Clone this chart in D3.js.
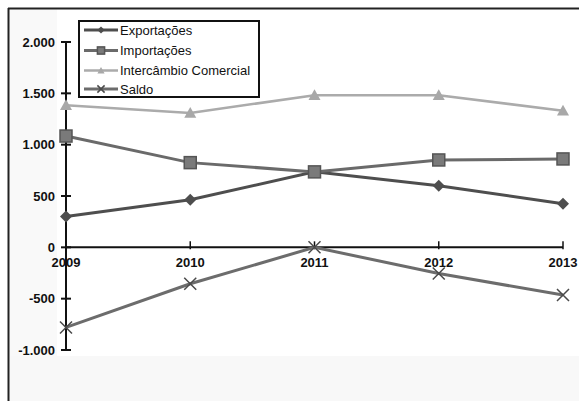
<!DOCTYPE html>
<html><head><meta charset="utf-8">
<script src="https://cdn.jsdelivr.net/npm/d3@7"></script>
<style>html,body{margin:0;padding:0;background:#fff;}svg{display:block;}</style>
</head><body>
<svg id="c" width="579" height="401"></svg>
<script>
const years = ["2009","2010","2011","2012","2013"];
const exportacoes = [301, 463, 735, 600, 425];
const importacoes = [1084, 825, 735, 851, 861];
const intercambio = [1385, 1308, 1482, 1482, 1330];
const saldo = [-780, -355, 0, -255, -465];
const yTicks = [-1000, -500, 0, 500, 1000, 1500, 2000];
const yTickLabels = ["-1.000", "-500", "0", "500", "1.000", "1.500", "2.000"];
const seriesNames = ["Exportações", "Importações", "Intercâmbio Comercial", "Saldo"];

const svg = d3.select("#c");
const font = "Liberation Sans, Arial, sans-serif";

// frame
svg.append("rect").attr("x",0).attr("y",0).attr("width",579).attr("height",401).attr("fill","#fff");
svg.append("rect").attr("x",9).attr("y",356).attr("width",570).attr("height",45).attr("fill","#f8f8f8");
svg.append("rect").attr("x",9).attr("y",9).attr("width",48).attr("height",347).attr("fill","#f9f9f9");
svg.append("line").attr("x1",8.5).attr("x2",8.5).attr("y1",8).attr("y2",401).attr("stroke","#222").attr("stroke-width",2);
svg.append("line").attr("x1",8).attr("x2",579).attr("y1",8.5).attr("y2",8.5).attr("stroke","#222").attr("stroke-width",2);

const x = d3.scalePoint().domain(years).range([66, 563]);
const y = d3.scaleLinear().domain([-1000, 2000]).range([350, 42]);

// y axis
const yAxis = svg.append("g");
yAxis.append("line").attr("x1",66).attr("x2",66).attr("y1",y(2000)).attr("y2",y(-1000)).attr("stroke","#111").attr("stroke-width",2);
yAxis.selectAll("line.t").data(yTicks).join("line").attr("class","t")
  .attr("x1",61).attr("x2",71).attr("y1",d=>y(d)).attr("y2",d=>y(d)).attr("stroke","#111").attr("stroke-width",2);
yAxis.selectAll("text").data(yTicks).join("text")
  .attr("x",55).attr("y",d=>y(d)+4.5).attr("text-anchor","end")
  .attr("font-family",font).attr("font-size",13).attr("font-weight","bold").attr("fill","#111")
  .text((d,i)=>yTickLabels[i]);

// x axis
const xAxis = svg.append("g");
xAxis.append("line").attr("x1",66).attr("x2",563).attr("y1",y(0)).attr("y2",y(0)).attr("stroke","#111").attr("stroke-width",2);
xAxis.selectAll("line.t").data(years).join("line").attr("class","t")
  .attr("x1",d=>x(d)).attr("x2",d=>x(d)).attr("y1",y(0)-6).attr("y2",y(0)+2).attr("stroke","#111").attr("stroke-width",1.5);
xAxis.selectAll("text").data(years).join("text")
  .attr("x",d=>x(d)).attr("y",y(0)+20).attr("text-anchor","middle")
  .attr("font-family",font).attr("font-size",13).attr("font-weight","bold").attr("fill","#111")
  .text(d=>d);

const series = [
  {name: seriesNames[0], values: exportacoes, color:"#4e4e4e", w:3, sym:"diamond"},
  {name: seriesNames[1], values: importacoes, color:"#6a6a6a", w:3, sym:"square"},
  {name: seriesNames[2], values: intercambio, color:"#ababab", w:2.5, sym:"triangle"},
  {name: seriesNames[3], values: saldo, color:"#6c6c6c", w:3, sym:"x"}
];

const line = d3.line().x((d,i)=>x(years[i])).y(d=>y(d));

function drawMarker(g, sym, cx, cy, color, scale){
  scale = scale || 1;
  const s = 6*scale;
  if (sym === "diamond") {
    g.append("path").attr("d",`M${cx},${cy-s}L${cx+s},${cy}L${cx},${cy+s}L${cx-s},${cy}Z`).attr("fill",color);
  } else if (sym === "square") {
    g.append("rect").attr("x",cx-s).attr("y",cy-s).attr("width",2*s).attr("height",2*s)
      .attr("fill","#7a7a7a").attr("stroke","#555").attr("stroke-width",1.5);
  } else if (sym === "triangle") {
    g.append("path").attr("d",`M${cx},${cy-s}L${cx+s},${cy+s*0.8}L${cx-s},${cy+s*0.8}Z`).attr("fill","#a8a8a8");
  } else if (sym === "x") {
    g.append("path").attr("d",`M${cx-s},${cy-s}L${cx+s},${cy+s}M${cx-s},${cy+s}L${cx+s},${cy-s}`)
      .attr("stroke","#4a4a4a").attr("stroke-width",1.5).attr("fill","none");
  }
}

const order = [2,3,0,1];
order.forEach(k=>{
  const s = series[k];
  const g = svg.append("g");
  g.append("path").attr("d", line(s.values)).attr("fill","none").attr("stroke",s.color).attr("stroke-width",s.w);
  s.values.forEach((v,i)=>drawMarker(g, s.sym, x(years[i]), y(v), s.color));
});

// legend
const lg = svg.append("g");
lg.append("rect").attr("x",79).attr("y",21).attr("width",180).attr("height",76)
  .attr("fill","#fff").attr("stroke","#111").attr("stroke-width",2);
const rowsY = [30, 50.5, 70.5, 89];
series.forEach((s,i)=>{
  const ly = rowsY[i];
  lg.append("line").attr("x1",84).attr("x2",118).attr("y1",ly).attr("y2",ly).attr("stroke",s.color).attr("stroke-width",s.w);
  drawMarker(lg, s.sym, 101, ly, s.color, 0.6);
  lg.append("text").attr("x",120).attr("y",ly+4.5)
    .attr("font-family",font).attr("font-size",13).attr("fill","#111").text(s.name);
});
</script>
</body></html>
